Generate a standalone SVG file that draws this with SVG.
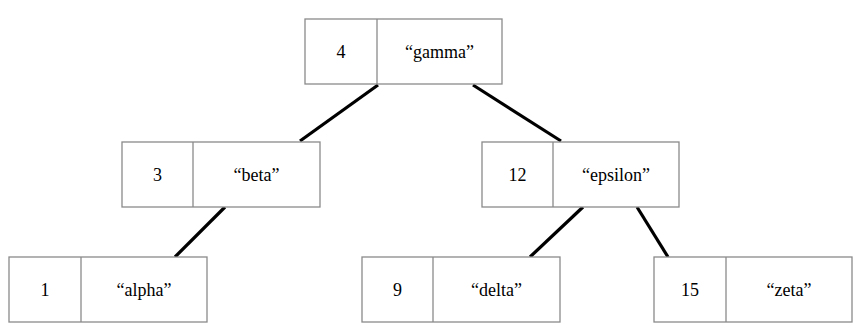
<svg xmlns="http://www.w3.org/2000/svg" width="862" height="330" viewBox="0 0 862 330">
<style>
rect.b{fill:#fff;stroke:#8a8a8a;stroke-width:1.3}
line.d{stroke:#8a8a8a;stroke-width:1.3}
text{font-family:'Liberation Serif','Times New Roman',Times,'DejaVu Serif',serif;font-size:18px;fill:#000;text-anchor:middle}
#edges line{stroke:#000;stroke-width:3.2}
</style>
<g id="edges">
<line x1="378" y1="85" x2="300" y2="141"/>
<line x1="473" y1="85" x2="561" y2="141"/>
<line x1="225" y1="207" x2="175" y2="257"/>
<line x1="583" y1="207" x2="530" y2="257"/>
<line x1="637" y1="207" x2="668" y2="257"/>
</g>
<g id="n4">
<rect class="b" x="305" y="19" width="197" height="65"/>
<line class="d" x1="377" y1="19" x2="377" y2="84"/>
<text x="341" y="58">4</text>
<text x="439.5" y="58">“gamma”</text>
</g>
<g id="n3">
<rect class="b" x="122" y="142" width="198" height="65"/>
<line class="d" x1="193" y1="142" x2="193" y2="207"/>
<text x="157.5" y="181">3</text>
<text x="256.5" y="181">“beta”</text>
</g>
<g id="n12">
<rect class="b" x="482" y="142" width="197" height="65"/>
<line class="d" x1="553" y1="142" x2="553" y2="207"/>
<text x="517.5" y="181">12</text>
<text x="616" y="181">“epsilon”</text>
</g>
<g id="n1">
<rect class="b" x="9" y="257" width="198" height="65"/>
<line class="d" x1="81" y1="257" x2="81" y2="322"/>
<text x="45" y="296">1</text>
<text x="144" y="296">“alpha”</text>
</g>
<g id="n9">
<rect class="b" x="362" y="257" width="198" height="65"/>
<line class="d" x1="433" y1="257" x2="433" y2="322"/>
<text x="397.5" y="296">9</text>
<text x="496.5" y="296">“delta”</text>
</g>
<g id="n15">
<rect class="b" x="654" y="257" width="198" height="65"/>
<line class="d" x1="726" y1="257" x2="726" y2="322"/>
<text x="690" y="296">15</text>
<text x="789" y="296">“zeta”</text>
</g>
</svg>
